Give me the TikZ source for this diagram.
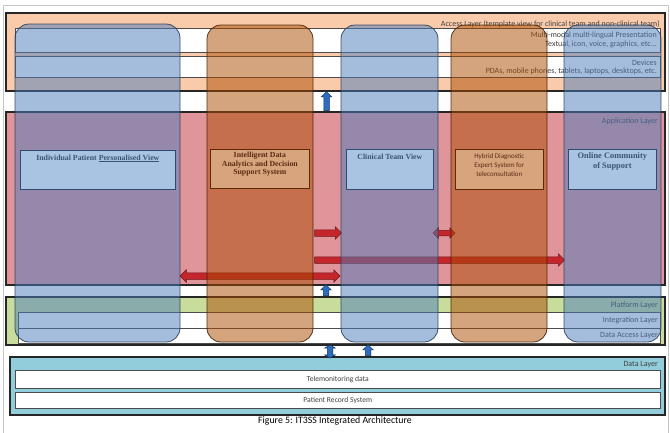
\documentclass[tikz,border=0pt]{standalone}
\usepackage{fontspec}
\setmainfont{Liberation Serif}
\newfontfamily\labelfont{Carlito}
\usetikzlibrary{shapes.arrows}

\definecolor{accessfill}{HTML}{F9CBAA}
\definecolor{appfill}{HTML}{E0959A}
\definecolor{platfill}{HTML}{C8DC9C}
\definecolor{datafill}{HTML}{92CDDC}
\definecolor{colblue}{HTML}{4D7DBB}
\definecolor{colorange}{HTML}{AB4A00}
\definecolor{boxblue}{HTML}{A9C3E2}
\definecolor{boxtan}{HTML}{D8A47E}
\definecolor{bluetext}{HTML}{3A5478}
\definecolor{browntext}{HTML}{5C2B12}
\definecolor{arrowred}{HTML}{C4262C}
\definecolor{arrowblue}{HTML}{2C6CC0}

\tikzset{
  layer/.style={draw=black!85, line width=1.1pt},
  band/.style={draw=black!70, fill=white, line width=0.6pt},
  pillar/.style={rounded corners=14pt, line width=0.8pt, fill opacity=0.5, draw opacity=0.85},
  bluepillar/.style={pillar, fill=colblue, draw=colblue!45!black},
  orangepillar/.style={pillar, fill=colorange, draw=colorange!35!black},
  layerlabel/.style={font=\labelfont\fontsize{8}{9}\selectfont, text=black!75, inner sep=0pt},
  bluebox/.style={draw=colblue!60!black, fill=boxblue, line width=0.7pt, inner sep=0pt},
  tanbox/.style={draw=colorange!55!black, fill=boxtan, line width=0.7pt, inner sep=0pt},
  serifbold/.style={font=\bfseries\fontsize{7.8}{8.4}\selectfont, align=center, inner sep=0pt},
  redarrow/.style={single arrow, draw=arrowred!55!black, fill=arrowred, line width=0.5pt,
    inner sep=3pt, single arrow head extend=3pt, single arrow tip angle=90, anchor=center},
  reddouble/.style={double arrow, draw=arrowred!55!black, fill=arrowred, line width=0.5pt,
    inner sep=3pt, double arrow head extend=3pt, double arrow tip angle=90, anchor=center},
  bluearrow/.style={single arrow, draw=arrowblue!45!black, fill=arrowblue, line width=0.5pt,
    inner sep=2.5pt, single arrow head extend=2.5pt, single arrow tip angle=90,
    shape border rotate=90, anchor=center},
  bluedouble/.style={double arrow, draw=arrowblue!45!black, fill=arrowblue, line width=0.5pt,
    inner sep=2.5pt, double arrow head extend=2.5pt, double arrow tip angle=120,
    shape border rotate=90, anchor=center},
}

\begin{document}
\begin{tikzpicture}[x=1pt,y=-1pt]
\useasboundingbox (0,0) rectangle (670,432);
\fill[white] (0,0) rectangle (670,432);
% thin page frame
\draw[black!22, line width=0.8pt] (3,5) -- (668,5) -- (668,440) (3,5) -- (3,440);

% ---------- Access layer ----------
\draw[layer, fill=accessfill] (6,13) rectangle (665,91);
\draw[band] (15,28) rectangle (660,52);
\draw[band] (15,56) rectangle (660,77);
\node[layerlabel, anchor=south east] (accesslbl) at (660,27.5)
  {Access Layer (template view for clinical team and non-clinical team)};
\node[layerlabel, anchor=east] (mmlbl) at (657,35.5) {Multi-modal multi-lingual Presentation};
\node[layerlabel, anchor=east] (mmsub) at (657,44.5) {Textual, icon, voice, graphics, etc...};
\node[layerlabel, anchor=east] (devlbl) at (657,62.5) {Devices};
\node[layerlabel, anchor=east] (devsub) at (657,71) {PDAs, mobile phones, tablets, laptops, desktops, etc.};

% ---------- Application layer ----------
\draw[layer, fill=appfill] (6,112) rectangle (665,285);
\node[layerlabel, anchor=east] (applbl) at (658,121) {Application Layer};

% ---------- Platform layer ----------
\draw[layer, fill=platfill] (6,297) rectangle (665,345);
\draw[band] (18,312) rectangle (660,343);
\draw[black!70, line width=0.6pt] (18,328) -- (660,328);
\node[layerlabel, anchor=east] (platlbl) at (658,305) {Platform Layer};
\node[layerlabel, anchor=east] (intlbl) at (658,320) {Integration Layer};
\node[layerlabel, anchor=east] (dallbl) at (658,336) {Data Access Layer};

% ---------- Data layer ----------
\draw[layer, line width=1.4pt, fill=datafill] (10,357) rectangle (665,415);
\node[layerlabel, anchor=east] (datalbl) at (658,365) {Data Layer};
\node[band, minimum width=645pt, minimum height=18pt, anchor=north west] (tele) at (15,370) {};
\node[layerlabel, font=\labelfont\fontsize{7.6}{9}\selectfont] at (tele.center) {Telemonitoring data};
\node[band, minimum width=645pt, minimum height=16pt, anchor=north west] (prs) at (15,392) {};
\node[layerlabel, font=\labelfont\fontsize{7.6}{9}\selectfont] at (prs.center) {Patient Record System};

% ---------- Red message arrows (under the pillars) ----------
\node[redarrow, minimum height=27pt] (ra1) at (326.5,233) {};
\node[reddouble, minimum height=22pt, inner sep=2.5pt, double arrow head extend=2.5pt] (ra2) at (444,233) {};
\node[redarrow, minimum height=250pt] (ra3) at (438,260) {};
\node[reddouble, minimum height=160pt] (ra4) at (260,276) {};

% ---------- Vertical pillars ----------
\draw[bluepillar]   (15,24)  rectangle (180,342);
\draw[orangepillar] (207,25) rectangle (313,342);
\draw[bluepillar]   (341,25) rectangle (438,342);
\draw[orangepillar] (451,25) rectangle (547,342);
\draw[bluepillar]   (564,25) rectangle (661,342);

% ---------- Application modules ----------
\node[bluebox, minimum width=155pt, minimum height=39pt, anchor=north west] (ipv) at (20,150) {};
\node[serifbold, text=bluetext, anchor=north] (ipvt) at ([yshift=-4.5pt]ipv.north)
  {Individual Patient \underline{Personalised View}};

\node[tanbox, minimum width=99pt, minimum height=39pt, anchor=north west] (ida) at (210,149) {};
\node[serifbold, text=browntext, anchor=north] (idat) at ([yshift=-3pt]ida.north)
  {Intelligent Data\\Analytics and Decision\\Support System};

\node[bluebox, minimum width=87pt, minimum height=40pt, anchor=north west] (ctv) at (346,149) {};
\node[serifbold, text=bluetext, anchor=north] (ctvt) at ([yshift=-5pt]ctv.north) {Clinical Team View};

\node[tanbox, minimum width=88pt, minimum height=40pt, anchor=north west] (hde) at (455,149) {};
\node[font=\labelfont\fontsize{7}{9}\selectfont, text=browntext, align=center, inner sep=0pt, anchor=north]
  (hdet) at ([yshift=-4pt]hde.north) {Hybrid Diagnostic\\Expert System for\\teleconsultation};

\node[bluebox, minimum width=88pt, minimum height=40pt, anchor=north west] (ocs) at (568,149) {};
\node[serifbold, font=\bfseries\fontsize{8.4}{10}\selectfont, text=bluetext, anchor=north]
  (ocst) at ([yshift=-3pt]ocs.north) {Online Community\\of Support};

% ---------- Blue inter-layer arrows ----------
\node[bluearrow, minimum height=19pt] (ba1) at (326.5,102.5) {};
\node[bluearrow, minimum height=11pt] (ba2) at (326,291.5) {};
\node[bluedouble, minimum height=13pt] (ba3) at (330,351.5) {};
\node[bluearrow, minimum height=11pt] (ba4) at (368,351.5) {};

% ---------- Caption ----------
\node[font=\labelfont\fontsize{9.8}{11}\selectfont, inner sep=0pt] (caption) at (335,421)
  {Figure 5: IT3SS Integrated Architecture};
\end{tikzpicture}
\end{document}
